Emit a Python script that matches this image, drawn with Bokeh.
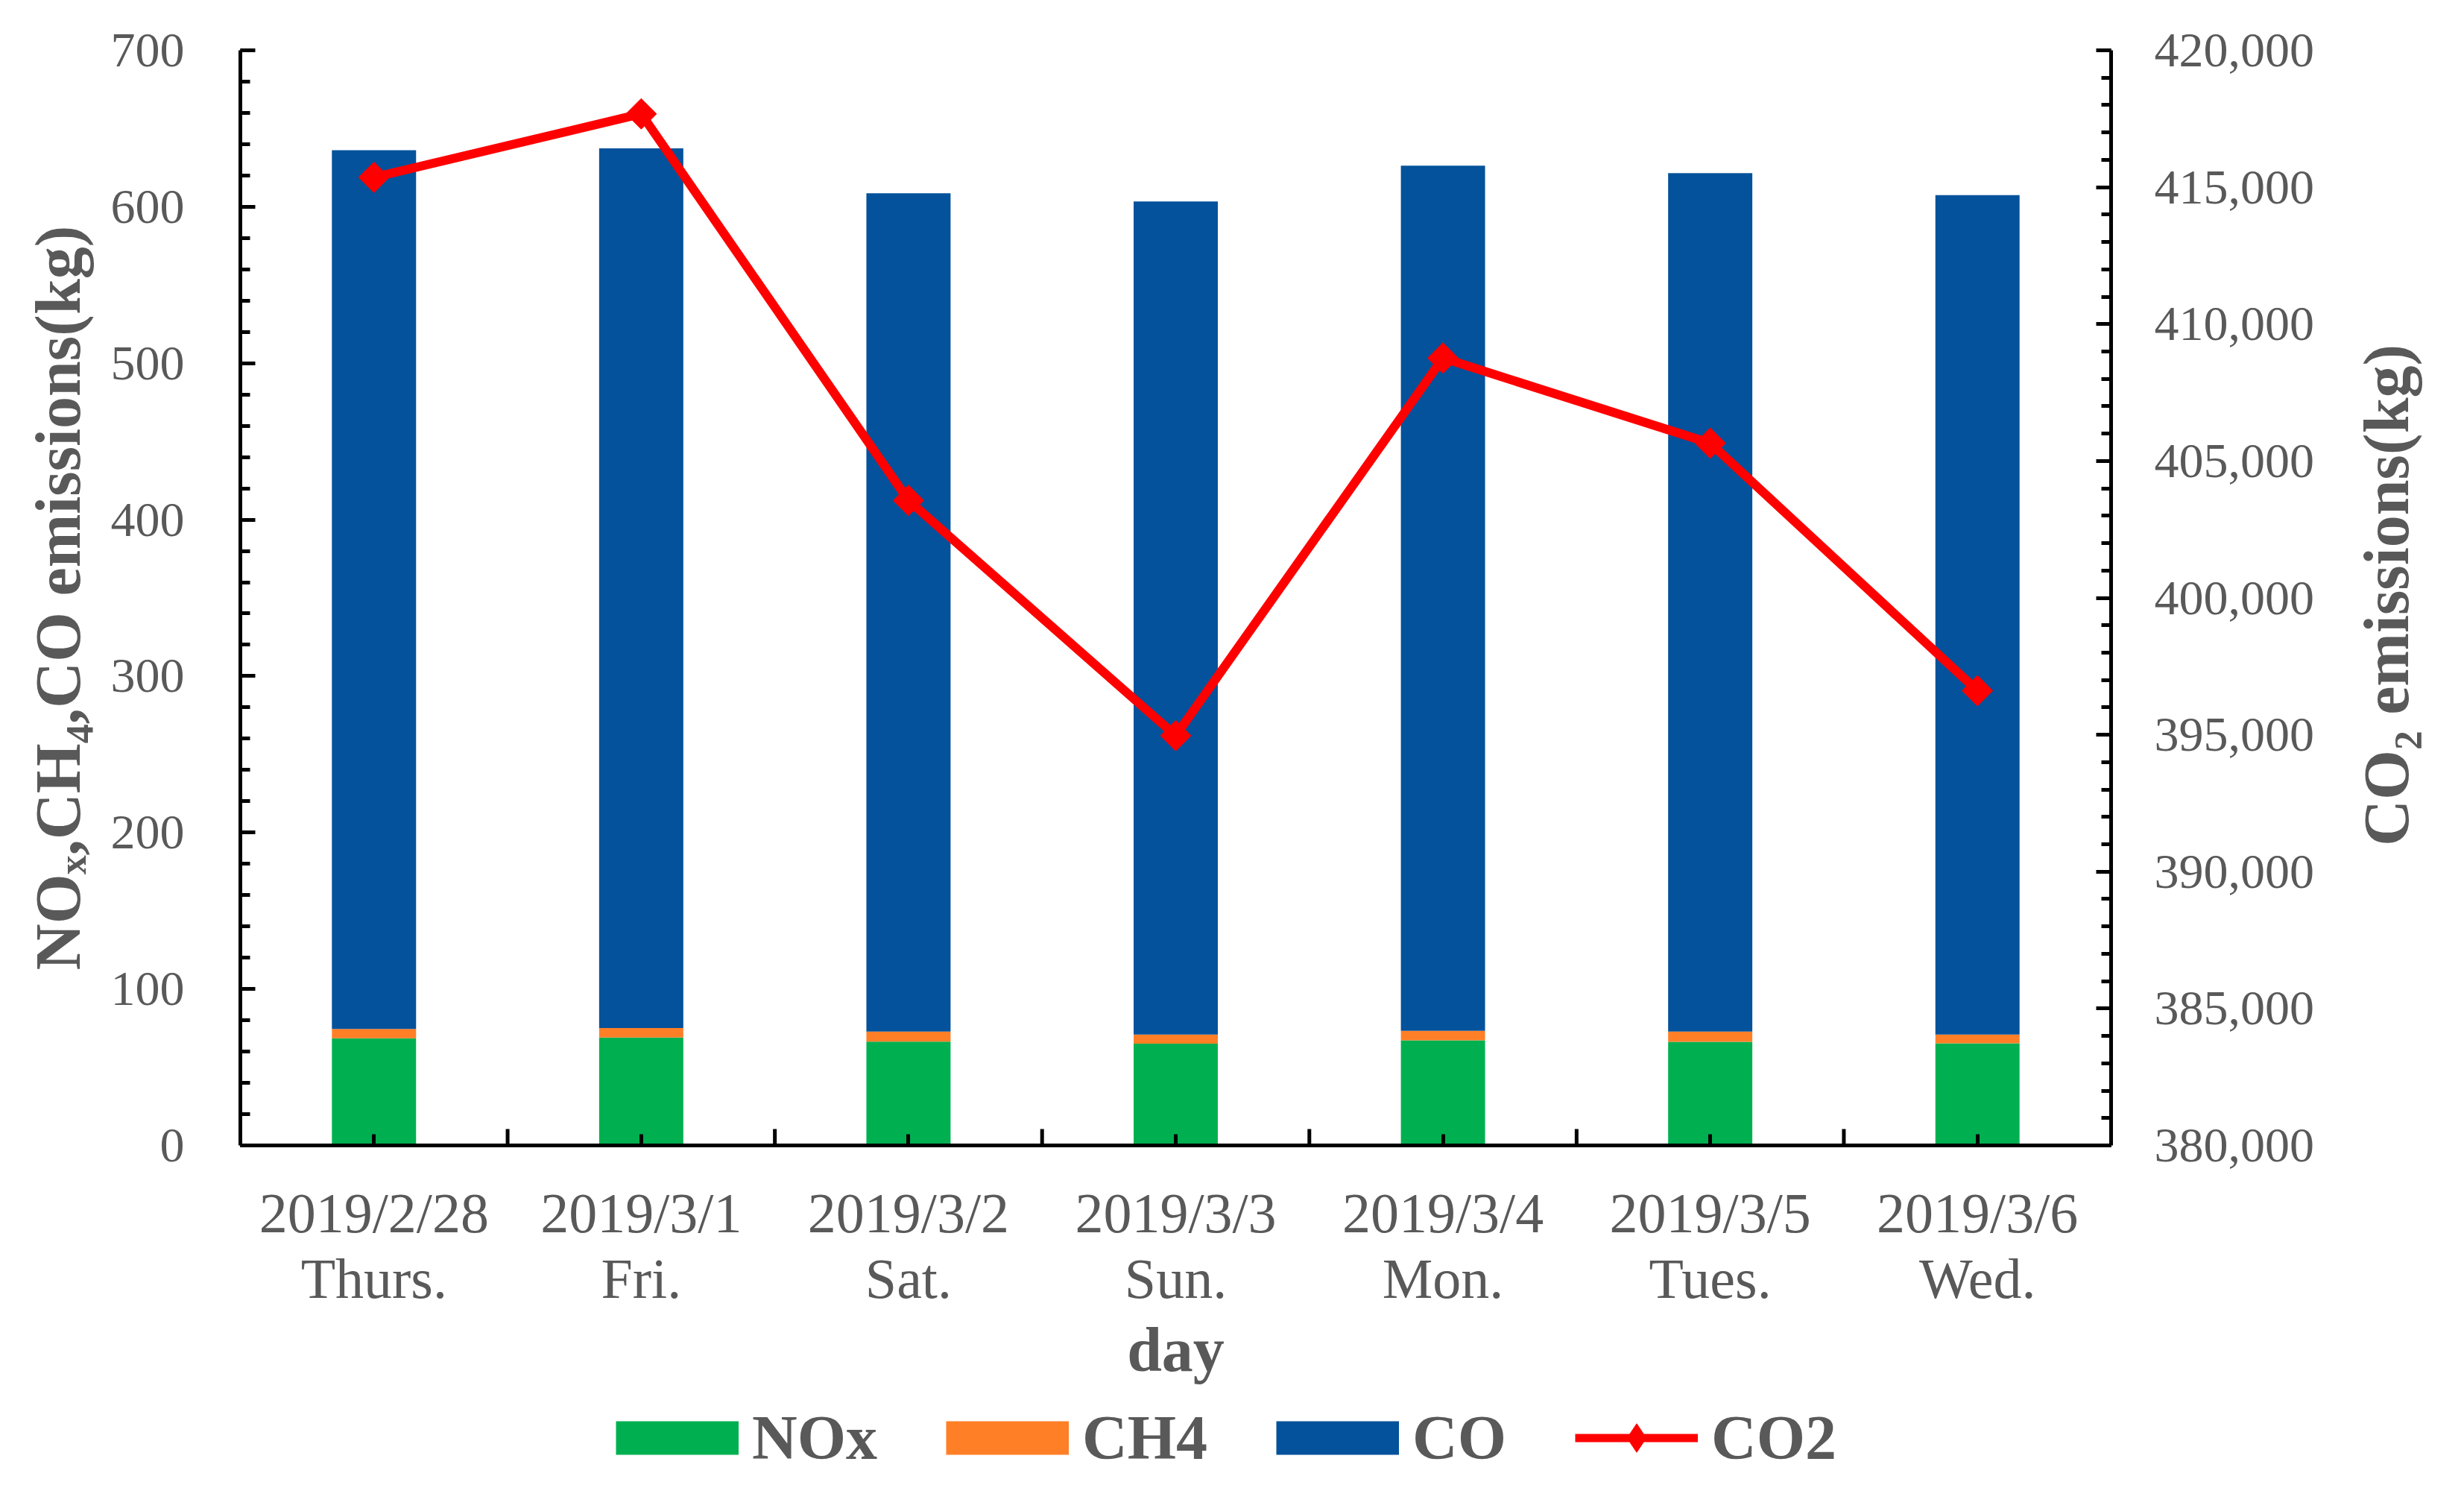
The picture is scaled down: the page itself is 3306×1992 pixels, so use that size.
import math
from bokeh.plotting import figure
from bokeh.layouts import column, row
from bokeh.models import (FactorRange, Range1d, LinearAxis, SingleIntervalTicker,
                          NumeralTickFormatter, ColumnDataSource, Legend, LegendItem, Label)
from bokeh.embed import file_html
from bokeh.resources import INLINE

dates = ["2019/2/28", "2019/3/1", "2019/3/2", "2019/3/3", "2019/3/4", "2019/3/5", "2019/3/6"]
weekdays = ["Thurs.", "Fri.", "Sat.", "Sun.", "Mon.", "Tues.", "Wed."]
nox = [68.5, 69.0, 66.4, 65.0, 67.2, 66.2, 65.3]
ch4 = [6.0, 6.0, 6.4, 5.9, 6.1, 6.6, 5.6]
co = [561.7, 562.3, 535.8, 532.5, 553.0, 548.7, 536.5]
co2 = [415360, 417680, 403560, 394970, 408760, 405650, 396610]

cats = [f"{d}\n{w}" for d, w in zip(dates, weekdays)]
series = ["NOx", "CH4", "CO"]
colors = ["#00B050", "#FF7F27", "#03529B"]
RED = "#FF0000"

FONT = "Liberation Serif"
GRAY = "#595959"

src = ColumnDataSource(dict(day=cats, NOx=nox, CH4=ch4, CO=co, CO2=co2))

W = 3290
RW = 140            # strip holding the right axis title
PW = W - RW
MAIN_H = 1880
LEG_H = 96
TOP, BOTTOM = 67, 1536
p = figure(width=PW, height=MAIN_H, x_range=FactorRange(*cats, range_padding=0),
           y_range=Range1d(0, 700), output_backend="svg", toolbar_location=None,
           min_border_left=322, min_border_right=PW - 2832, min_border_top=TOP,
           min_border_bottom=MAIN_H - BOTTOM)
p.outline_line_color = None
p.xgrid.visible = False
p.ygrid.visible = False

bars = p.vbar_stack(series, x="day", width=0.315, color=colors, line_color=None, source=src)

p.extra_y_ranges = {"co2": Range1d(380000, 420000), "px": Range1d(0, BOTTOM - TOP)}
line_r = p.line(x="day", y="CO2", source=src, y_range_name="co2", line_color=RED,
                line_width=12, line_join="round")
mark_r = p.scatter(x="day", y="CO2", source=src, y_range_name="co2", marker="square",
                   angle=math.pi / 4, size=29, fill_color=RED, line_color=RED)

# category boundary ticks on the x axis
bounds = list(range(1, len(cats)))
p.segment(x0=bounds, x1=bounds, y0=[0] * len(bounds), y1=[22] * len(bounds),
          y_range_name="px", line_color="black", line_width=5)

def style_axis(ax, size):
    ax.axis_line_color = "black"
    ax.axis_line_width = 5
    ax.major_tick_line_width = 5
    ax.minor_tick_line_width = 5
    ax.major_tick_out = 0
    ax.minor_tick_out = 0
    ax.major_label_text_font = FONT
    ax.major_label_text_font_size = size
    ax.major_label_text_color = GRAY
    ax.axis_label_text_font = FONT
    ax.axis_label_text_font_style = "bold"
    ax.axis_label_text_font_size = "86px"
    ax.axis_label_text_color = GRAY

# left axis
ly = p.yaxis[0]
ly.ticker = SingleIntervalTicker(interval=100, num_minor_ticks=5)
style_axis(ly, "66px")
ly.major_tick_in = 20
ly.minor_tick_in = 13
ly.major_label_standoff = 75
ly.axis_label = "NOₓ,CH₄,CO emissions(kg)"
ly.axis_label_standoff = 20

# x axis
xa = p.xaxis[0]
style_axis(xa, "76px")
xa.major_tick_in = 15
xa.major_label_standoff = 48
xa.major_label_text_line_height = 1.05
xa.axis_label = "day"
xa.axis_label_standoff = 4
xa.axis_label_text_font_size = "84px"

# right axis
ry = LinearAxis(y_range_name="co2",
                ticker=SingleIntervalTicker(interval=5000, num_minor_ticks=5),
                formatter=NumeralTickFormatter(format="0,0"))
style_axis(ry, "66px")
ry.major_tick_in = 20
ry.minor_tick_in = 13
ry.major_label_standoff = 58
p.add_layout(ry, "right")

# right axis title strip (text reads bottom-to-top)
rf = figure(width=RW, height=MAIN_H, x_range=Range1d(0, RW), y_range=Range1d(0, MAIN_H),
            x_axis_type=None, y_axis_type=None, output_backend="svg",
            toolbar_location=None, min_border=0)
rf.outline_line_color = None
rf.add_layout(Label(x=51, y=MAIN_H - (TOP + BOTTOM) / 2 - 134, text="CO₂ emissions(kg)",
                    angle=math.pi / 2, text_align="center", text_baseline="middle",
                    text_font=FONT, text_font_style="bold", text_font_size="86px",
                    text_color=GRAY))

# legend strip below the chart
lf = figure(width=W, height=LEG_H, x_range=Range1d(0, 1), y_range=Range1d(0, 1),
            x_axis_type=None, y_axis_type=None, output_backend="svg",
            toolbar_location=None, min_border=0)
lf.outline_line_color = None
nan = [float("nan")]
leg_bars = [lf.line(x=nan, y=nan, line_color=c, line_width=45, line_cap="butt") for c in colors]
leg_line = lf.line(x=nan, y=nan, line_color=RED, line_width=11)
leg_mark = lf.scatter(x=nan, y=nan, marker="diamond", fill_color=RED, line_color=RED)

items = [LegendItem(label=s, renderers=[r]) for s, r in zip(series, leg_bars)]
items.append(LegendItem(label="CO2", renderers=[leg_line, leg_mark]))
leg = Legend(items=items, orientation="horizontal", location="center",
             glyph_width=165, glyph_height=96, label_standoff=18, spacing=92,
             label_text_font=FONT, label_text_font_style="bold",
             label_text_font_size="84px", label_text_color=GRAY,
             border_line_color=None, background_fill_alpha=0, padding=0, margin=0)
lf.add_layout(leg, "center")

layout = column(row(p, rf, spacing=0), lf, spacing=0)
open("out.html", "w").write(file_html(layout, INLINE))
